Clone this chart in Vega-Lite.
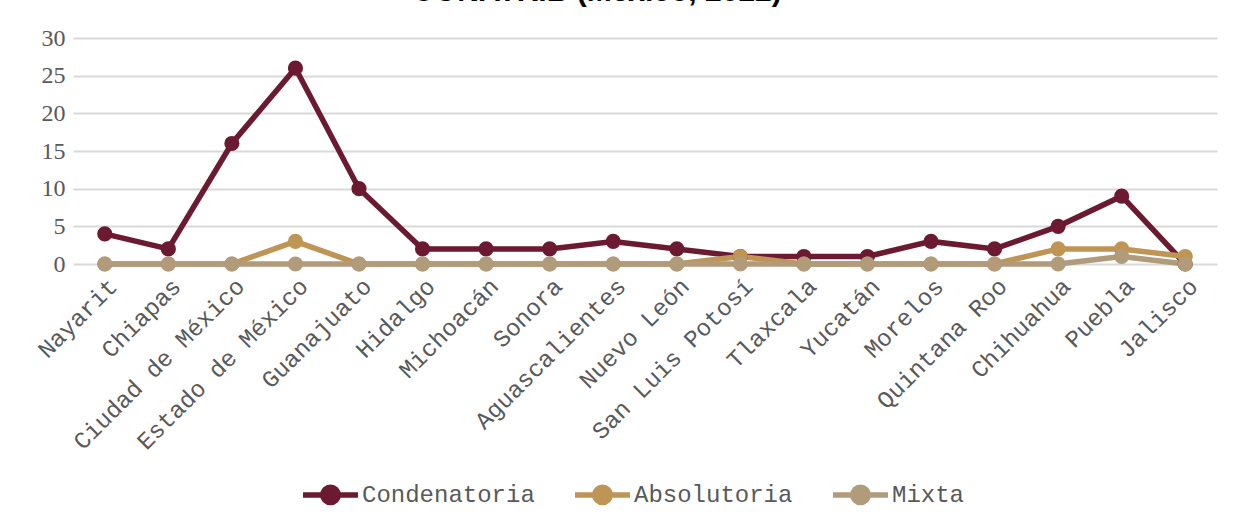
{
  "$schema": "https://vega.github.io/schema/vega-lite/v6.json",
  "autosize": {"type": "none"},
  "width": 1144,
  "height": 226,
  "padding": {"left": 73, "top": 38, "right": 17, "bottom": 263},
  "background": "white",
  "title": {
    "text": "CONATRIB (México, 2022)",
    "font": "Liberation Sans",
    "fontSize": 30,
    "fontWeight": "bold",
    "color": "#000000",
    "anchor": "middle",
    "baseline": "alphabetic",
    "dx": -48,
    "dy": 23,
    "offset": 18
  },
  "data": {
    "values": [
      {"estado": "Nayarit", "serie": "Condenatoria", "valor": 4},
      {"estado": "Chiapas", "serie": "Condenatoria", "valor": 2},
      {"estado": "Ciudad de México", "serie": "Condenatoria", "valor": 16},
      {"estado": "Estado de México", "serie": "Condenatoria", "valor": 26},
      {"estado": "Guanajuato", "serie": "Condenatoria", "valor": 10},
      {"estado": "Hidalgo", "serie": "Condenatoria", "valor": 2},
      {"estado": "Michoacán", "serie": "Condenatoria", "valor": 2},
      {"estado": "Sonora", "serie": "Condenatoria", "valor": 2},
      {"estado": "Aguascalientes", "serie": "Condenatoria", "valor": 3},
      {"estado": "Nuevo León", "serie": "Condenatoria", "valor": 2},
      {"estado": "San Luis Potosí", "serie": "Condenatoria", "valor": 1},
      {"estado": "Tlaxcala", "serie": "Condenatoria", "valor": 1},
      {"estado": "Yucatán", "serie": "Condenatoria", "valor": 1},
      {"estado": "Morelos", "serie": "Condenatoria", "valor": 3},
      {"estado": "Quintana Roo", "serie": "Condenatoria", "valor": 2},
      {"estado": "Chihuahua", "serie": "Condenatoria", "valor": 5},
      {"estado": "Puebla", "serie": "Condenatoria", "valor": 9},
      {"estado": "Jalisco", "serie": "Condenatoria", "valor": 0},
      {"estado": "Nayarit", "serie": "Absolutoria", "valor": 0},
      {"estado": "Chiapas", "serie": "Absolutoria", "valor": 0},
      {"estado": "Ciudad de México", "serie": "Absolutoria", "valor": 0},
      {"estado": "Estado de México", "serie": "Absolutoria", "valor": 3},
      {"estado": "Guanajuato", "serie": "Absolutoria", "valor": 0},
      {"estado": "Hidalgo", "serie": "Absolutoria", "valor": 0},
      {"estado": "Michoacán", "serie": "Absolutoria", "valor": 0},
      {"estado": "Sonora", "serie": "Absolutoria", "valor": 0},
      {"estado": "Aguascalientes", "serie": "Absolutoria", "valor": 0},
      {"estado": "Nuevo León", "serie": "Absolutoria", "valor": 0},
      {"estado": "San Luis Potosí", "serie": "Absolutoria", "valor": 1},
      {"estado": "Tlaxcala", "serie": "Absolutoria", "valor": 0},
      {"estado": "Yucatán", "serie": "Absolutoria", "valor": 0},
      {"estado": "Morelos", "serie": "Absolutoria", "valor": 0},
      {"estado": "Quintana Roo", "serie": "Absolutoria", "valor": 0},
      {"estado": "Chihuahua", "serie": "Absolutoria", "valor": 2},
      {"estado": "Puebla", "serie": "Absolutoria", "valor": 2},
      {"estado": "Jalisco", "serie": "Absolutoria", "valor": 1},
      {"estado": "Nayarit", "serie": "Mixta", "valor": 0},
      {"estado": "Chiapas", "serie": "Mixta", "valor": 0},
      {"estado": "Ciudad de México", "serie": "Mixta", "valor": 0},
      {"estado": "Estado de México", "serie": "Mixta", "valor": 0},
      {"estado": "Guanajuato", "serie": "Mixta", "valor": 0},
      {"estado": "Hidalgo", "serie": "Mixta", "valor": 0},
      {"estado": "Michoacán", "serie": "Mixta", "valor": 0},
      {"estado": "Sonora", "serie": "Mixta", "valor": 0},
      {"estado": "Aguascalientes", "serie": "Mixta", "valor": 0},
      {"estado": "Nuevo León", "serie": "Mixta", "valor": 0},
      {"estado": "San Luis Potosí", "serie": "Mixta", "valor": 0},
      {"estado": "Tlaxcala", "serie": "Mixta", "valor": 0},
      {"estado": "Yucatán", "serie": "Mixta", "valor": 0},
      {"estado": "Morelos", "serie": "Mixta", "valor": 0},
      {"estado": "Quintana Roo", "serie": "Mixta", "valor": 0},
      {"estado": "Chihuahua", "serie": "Mixta", "valor": 0},
      {"estado": "Puebla", "serie": "Mixta", "valor": 1},
      {"estado": "Jalisco", "serie": "Mixta", "valor": 0}
    ]
  },
  "mark": {
    "type": "line",
    "strokeWidth": 5.5,
    "point": {"filled": true, "size": 230, "opacity": 1}
  },
  "encoding": {
    "x": {
      "field": "estado",
      "type": "nominal",
      "sort": null,
      "title": null,
      "scale": {"type": "point", "padding": 0.5},
      "axis": {
        "labelAngle": -45,
        "labelFont": "Liberation Mono",
        "labelFontSize": 24,
        "labelFontWeight": "normal",
        "labelColor": "#595959",
        "labelPadding": 10,
        "labelLimit": 0,
        "labelDx": -6,
        "ticks": false,
        "domain": false,
        "grid": false
      }
    },
    "y": {
      "field": "valor",
      "type": "quantitative",
      "title": null,
      "scale": {"domain": [0, 30]},
      "axis": {
        "values": [0, 5, 10, 15, 20, 25, 30],
        "labelFont": "Liberation Serif",
        "labelFontSize": 24,
        "labelColor": "#595959",
        "labelPadding": 8,
        "ticks": false,
        "domain": false,
        "grid": true,
        "gridColor": "#d9d9d9",
        "gridWidth": 2
      }
    },
    "color": {
      "field": "serie",
      "type": "nominal",
      "title": null,
      "sort": ["Condenatoria", "Absolutoria", "Mixta"],
      "scale": {
        "domain": ["Condenatoria", "Absolutoria", "Mixta"],
        "range": ["#6B1A32", "#BE9555", "#B19B7B"]
      },
      "legend": {
        "orient": "none",
        "direction": "horizontal",
        "legendX": 227,
        "legendY": 426,
        "labelFont": "Liberation Mono",
        "labelFontSize": 24,
        "labelColor": "#595959",
        "labelOffset": 1,
        "labelLimit": 0,
        "columnPadding": 29,
        "symbolType": "M-1,0H1M-0.28,0A0.28,0.28 0 1,1 0.28,0A0.28,0.28 0 1,1 -0.28,0",
        "symbolSize": 3025,
        "symbolStrokeWidth": 5.5,
        "encode": {
          "symbols": {
            "update": {
              "fill": {"scale": "color", "field": "value"},
              "stroke": {"scale": "color", "field": "value"},
              "opacity": {"value": 1}
            }
          }
        }
      }
    }
  },
  "config": {
    "view": {"stroke": null}
  }
}
